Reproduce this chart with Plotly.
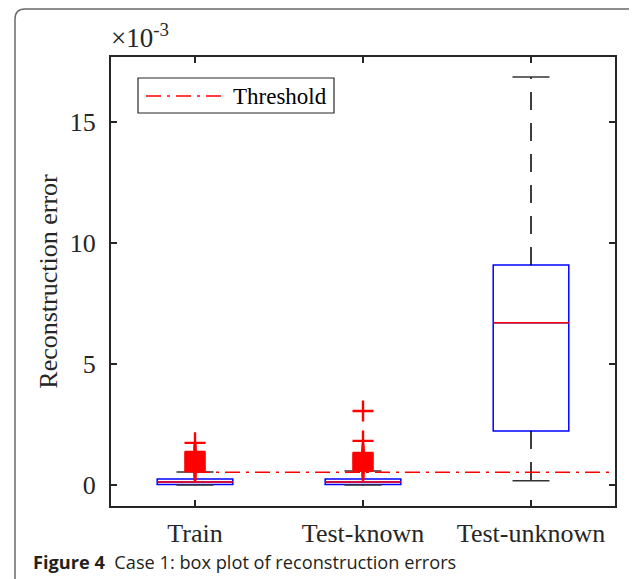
import plotly.graph_objects as go

# ---------------- data (values in units of 1e-3) ----------------
categories = ["Train", "Test-known", "Test-unknown"]
positions = [1, 2, 3]
q1_vals = [0.02, 0.02, 2.23]
median_vals = [0.12, 0.12, 6.70]
q3_vals = [0.25, 0.25, 9.09]
lower_whisker = [0.0, 0.0, 0.17]
upper_whisker = [0.54, 0.58, 16.86]
threshold_value = 0.53
train_outliers = [0.56, 0.60, 0.64, 0.68, 0.72, 0.76, 0.80, 0.84, 0.88, 0.92,
                  0.96, 1.00, 1.04, 1.08, 1.12, 1.16, 1.20, 1.24, 1.28, 1.32,
                  1.36, 1.74]
testknown_outliers = [0.60, 0.64, 0.68, 0.72, 0.76, 0.80, 0.84, 0.88, 0.92, 0.96,
                      1.00, 1.04, 1.08, 1.12, 1.16, 1.20, 1.24, 1.28, 1.32,
                      1.82, 3.06]
outliers = [train_outliers, testknown_outliers, []]
y_ticks = [0, 5, 10, 15]
y_tick_labels = ["0", "5", "10", "15"]

# ---------------- layout geometry (window pixels) ----------------
OFF = 8                      # page body margin
W, H = 637 - OFF, 579 - OFF  # figure size
L, R, T, B = 111, 615, 57, 506   # plot area in window pixels


def pxx(x):
    return (x - L) / (R - L)


def pxy(y):
    return (B - y) / (B - T)


SERIF = "Liberation Serif"
AXC = "#262626"
BOX_W = 0.45
CAP_W = 0.22
WHISKER_DASH = "18px,13px"
THRESH_DASH = "15px,6px,3px,6px"

fig = go.Figure()

for i, pos in enumerate(positions):
    fig.add_trace(go.Box(
        x=[pos], q1=[q1_vals[i]], median=[median_vals[i]], q3=[q3_vals[i]],
        lowerfence=[q1_vals[i]], upperfence=[q3_vals[i]],
        width=BOX_W, line=dict(color="#0000ff", width=1.5),
        fillcolor="rgba(255,255,255,0)", boxpoints=False,
        showlegend=False, hoverinfo="skip"))
    # whiskers (drawn outward from the box)
    fig.add_trace(go.Scatter(
        x=[pos, pos], y=[q3_vals[i], upper_whisker[i]], mode="lines",
        line=dict(color="black", width=1.5, dash=WHISKER_DASH),
        showlegend=False, hoverinfo="skip"))
    fig.add_trace(go.Scatter(
        x=[pos, pos], y=[q1_vals[i], lower_whisker[i]], mode="lines",
        line=dict(color="black", width=1.5, dash=WHISKER_DASH),
        showlegend=False, hoverinfo="skip"))
    # caps
    for v in (upper_whisker[i], lower_whisker[i]):
        fig.add_trace(go.Scatter(
            x=[pos - CAP_W / 2, pos + CAP_W / 2], y=[v, v], mode="lines",
            line=dict(color="#333333", width=1.5),
            showlegend=False, hoverinfo="skip"))
    # median
    fig.add_trace(go.Scatter(
        x=[pos - BOX_W / 2, pos + BOX_W / 2], y=[median_vals[i], median_vals[i]],
        mode="lines", line=dict(color="#ff0000", width=1.5),
        showlegend=False, hoverinfo="skip"))
    # outliers
    if outliers[i]:
        fig.add_trace(go.Scatter(
            x=[pos] * len(outliers[i]), y=outliers[i], mode="markers",
            marker=dict(symbol="cross-thin", size=15,
                        line=dict(color="#ff0000", width=2.4)),
            showlegend=False, hoverinfo="skip"))

# threshold line
fig.add_trace(go.Scatter(
    x=[positions[0], 3.5], y=[threshold_value, threshold_value], mode="lines",
    line=dict(color="#ff0000", width=1.5, dash=THRESH_DASH),
    name="Threshold", showlegend=False, hoverinfo="skip"))

shapes = []
# figure frame with rounded corners
fx0, fx1 = pxx(15), pxx(641)
fyt, fyb = pxy(9), pxy(600)
rx, ry = 10 / (R - L), 10 / (B - T)
shapes.append(dict(
    type="path", xref="paper", yref="paper",
    path=(f"M {fx0},{fyb} L {fx0},{fyt - ry} Q {fx0},{fyt} {fx0 + rx},{fyt} "
          f"L {fx1 - rx},{fyt} Q {fx1},{fyt} {fx1},{fyt - ry} L {fx1},{fyb}"),
    line=dict(color="#6a6a6a", width=1.5)))
# legend box
shapes.append(dict(type="rect", xref="paper", yref="paper",
                   x0=pxx(138), x1=pxx(334), y0=pxy(113), y1=pxy(78),
                   line=dict(color=AXC, width=1.2), fillcolor="white"))
shapes.append(dict(type="line", xref="paper", yref="paper",
                   x0=pxx(146), x1=pxx(225), y0=pxy(96), y1=pxy(96),
                   line=dict(color="#ff0000", width=1.5, dash=THRESH_DASH)))

annotations = [
    dict(text="Threshold", xref="paper", yref="paper", x=pxx(231), y=pxy(96),
         xanchor="left", yanchor="middle", showarrow=False,
         font=dict(family=SERIF, size=23, color="black")),
    dict(text="×10<sup>-3</sup>", xref="paper", yref="paper", x=pxx(109), y=pxy(55),
         xanchor="left", yanchor="bottom", showarrow=False,
         font=dict(family=SERIF, size=27, color=AXC)),
    dict(text="<b>Figure 4</b>  Case 1: box plot of reconstruction errors",
         xref="paper", yref="paper", x=pxx(31), y=pxy(562),
         xanchor="left", yanchor="middle", showarrow=False,
         font=dict(family="Open Sans", size=18.2, color="#231f20")),
]

fig.update_layout(
    width=W, height=H,
    margin=dict(l=L - OFF, r=W - (R - OFF), t=T - OFF, b=H - (B - OFF), pad=0),
    paper_bgcolor="white", plot_bgcolor="white",
    showlegend=False,
    shapes=shapes, annotations=annotations,
    xaxis=dict(range=[0.5, 3.5], tickvals=positions, ticktext=categories,
               ticks="inside", ticklen=6, tickwidth=1.5, tickcolor=AXC,
               showline=True, linecolor=AXC, linewidth=2, mirror="allticks",
               showgrid=False, zeroline=False, ticklabelstandoff=3,
               tickfont=dict(family=SERIF, size=26, color=AXC)),
    yaxis=dict(range=[-0.87, 17.69], tickvals=y_ticks, ticktext=y_tick_labels,
               ticks="inside", ticklen=6, tickwidth=1.5, tickcolor=AXC,
               showline=True, linecolor=AXC, linewidth=2, mirror="allticks",
               showgrid=False, zeroline=False, ticklabelstandoff=8,
               tickfont=dict(family=SERIF, size=26, color=AXC),
               title=dict(text="Reconstruction error", standoff=5,
                          font=dict(family=SERIF, size=26, color=AXC))),
)

fig.write_html("out.html")
